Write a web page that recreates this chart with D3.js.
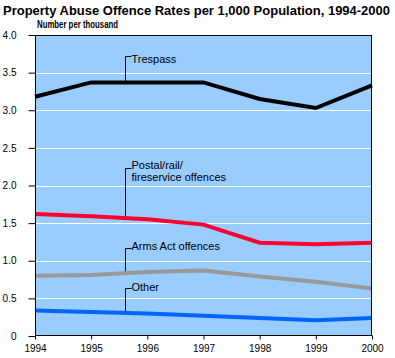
<!DOCTYPE html>
<html>
<head>
<meta charset="utf-8">
<script src="https://cdn.jsdelivr.net/npm/d3@7"></script>
<style>
  html, body { margin: 0; padding: 0; background: #fff; }
  text { font-family: "Liberation Sans", Arial, sans-serif; }
</style>
</head>
<body>
<script>
const years = [1994, 1995, 1996, 1997, 1998, 1999, 2000]
const trespass = [3.18, 3.37, 3.37, 3.37, 3.15, 3.03, 3.33]
const postal = [1.62, 1.59, 1.55, 1.48, 1.24, 1.22, 1.24]
const armsAct = [0.80, 0.81, 0.85, 0.87, 0.79, 0.72, 0.63]
const other = [0.34, 0.32, 0.30, 0.27, 0.24, 0.21, 0.24]
const yTicks = [0, 0.5, 1, 1.5, 2, 2.5, 3, 3.5, 4]

const width = 395
const height = 358

// label leader: value of its top, text offset
const series = [
  { name: ['Trespass'], values: trespass, color: '#000000', labelY: 3.72, textDy: 6 },
  { name: ['Postal/rail/', 'fireservice offences'], values: postal, color: '#ff0033', labelY: 2.23, textDy: 0 },
  { name: ['Arms Act offences'], values: armsAct, color: '#999999', labelY: 1.17, textDy: 1 },
  { name: ['Other'], values: other, color: '#0066ff', labelY: 0.64, textDy: 2 },
]
const labelYear = 1995.6

var x = d3.scaleLinear().domain([1994, 2000]).range([35, 372])
var y = d3.scaleLinear().domain([0, 4]).range([336, 35])

var svg = d3.select('body')
  .append('svg')
  .attr('width', width)
  .attr('height', height)

svg.append('rect')
  .attr('x', x(1994))
  .attr('y', y(4))
  .attr('width', x(2000) - x(1994))
  .attr('height', y(0) - y(4))
  .attr('fill', '#99ccff')

svg.append('g')
  .selectAll('line')
  .data(yTicks.filter(d => d > 0 && d < 4))
  .join('line')
  .attr('x1', x(1994))
  .attr('x2', x(2000) - 1)
  .attr('y1', d => Math.round(y(d)) + 0.5)
  .attr('y2', d => Math.round(y(d)) + 0.5)
  .attr('stroke', '#fff')
  .attr('stroke-width', 1)

var line = d3.line()
  .x((d, i) => x(years[i]))
  .y(d => y(d))

function valueAt(values, yr) {
  var i = Math.floor(yr - years[0])
  return d3.interpolateNumber(values[i], values[i + 1])(yr - years[i])
}

// leader lines + labels
series.forEach(s => {
  var lx = Math.round(x(labelYear)) + 0.5
  var top = Math.round(y(s.labelY)) + 0.5
  svg.append('path')
    .attr('d', `M${lx},${y(valueAt(s.values, labelYear))}V${top}H${lx + 6}`)
    .attr('fill', 'none')
    .attr('stroke', '#000')
    .attr('stroke-width', 1)
  var t = svg.append('text')
    .attr('x', lx + 6)
    .attr('y', top + s.textDy)
    .attr('font-size', 11)
    .attr('fill', '#000')
  s.name.forEach((n, i) => {
    t.append('tspan')
      .attr('x', lx + 6)
      .attr('dy', i === 0 ? 0 : 12)
      .text(n)
  })
})

series.slice().reverse().forEach(s => {
  svg.append('path')
    .datum(s.values)
    .attr('d', line)
    .attr('fill', 'none')
    .attr('stroke', s.color)
    .attr('stroke-width', 4)
})

// frame
svg.append('rect')
  .attr('x', x(1994) + 0.5)
  .attr('y', y(4) + 0.5)
  .attr('width', x(2000) - x(1994) - 1)
  .attr('height', y(0) - y(4) - 1)
  .attr('fill', 'none')
  .attr('stroke', '#000')
  .attr('stroke-width', 1)

var yAxis = svg.append('g')
  .attr('transform', `translate(${x(1994) + 0.5},0)`)
  .call(d3.axisLeft(y).tickValues(yTicks).tickSize(7).tickPadding(12)
    .tickFormat(d => d === 0 ? '0' : d3.format('.1f')(d)))
yAxis.select('.domain').remove()
yAxis.selectAll('text').attr('font-size', 10).attr('font-family', '"Liberation Sans", Arial, sans-serif')

var xAxis = svg.append('g')
  .attr('transform', `translate(0,${y(0) - 0.5})`)
  .call(d3.axisBottom(x).tickValues(years).tickSize(4).tickPadding(5).tickFormat(d3.format('d')))
xAxis.select('.domain').remove()
xAxis.selectAll('text').attr('font-size', 10).attr('font-family', '"Liberation Sans", Arial, sans-serif')

svg.append('text')
  .attr('x', 3)
  .attr('y', 15)
  .attr('font-size', 13)
  .attr('font-weight', 'bold')
  .attr('textLength', 387)
  .attr('lengthAdjust', 'spacingAndGlyphs')
  .text('Property Abuse Offence Rates per 1,000 Population, 1994-2000')

svg.append('text')
  .attr('x', 37)
  .attr('y', 28)
  .attr('font-size', 11)
  .attr('font-weight', 'bold')
  .attr('textLength', 81)
  .attr('lengthAdjust', 'spacingAndGlyphs')
  .text('Number per thousand')
</script>
</body>
</html>
